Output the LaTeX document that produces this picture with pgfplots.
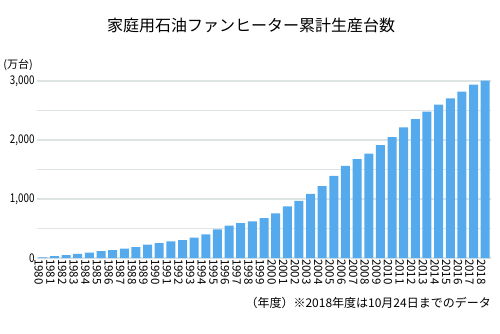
\documentclass[border=0pt]{standalone}
\usepackage{fontspec}
\setmainfont{Noto Sans CJK JP}
\newfontfamily\cond[FakeStretch=0.82]{Noto Sans CJK JP}
\usepackage{pgfplots}
\pgfplotsset{compat=1.18}
\definecolor{barc}{RGB}{85,170,238}
\definecolor{gridc}{RGB}{222,228,228}
\begin{document}
\begin{tikzpicture}
\path[use as bounding box] (0pt,0pt) rectangle (500pt,333pt);
\begin{axis}[at={(37pt,75pt)}, anchor=south west, scale only axis,
  width=454pt, height=177pt,
  xmin=-0.5, xmax=38.5, ymin=0, ymax=3000, clip=false,
  axis line style={draw=none}, tick style={draw=none},
  ytick={0,1000,2000,3000}, yticklabels={0,{1,000},{2,000},{3,000}},
  extra y ticks={500,1500,2500}, extra y tick labels={},
  extra y tick style={grid=major},
  ymajorgrids, major grid style={gridc, line width=1.2pt},
  yticklabel style={font=\cond\fontsize{12}{12}\selectfont, xshift=1pt},
  xtick={0,...,38},
  xticklabels={1980,1981,1982,1983,1984,1985,1986,1987,1988,1989,1990,1991,1992,1993,1994,1995,1996,1997,1998,1999,2000,2001,2002,2003,2004,2005,2006,2007,2008,2009,2010,2011,2012,2013,2014,2015,2016,2017,2018},
  x tick label style={font=\fontsize{11.5}{11.5}\selectfont, rotate=-90, anchor=west, inner sep=1pt, yshift=-4pt},
]
\addplot[ybar, bar width=9pt, fill=barc, draw=none] coordinates {
(0,12) (1,32) (2,50) (3,68) (4,90) (5,118) (6,135) (7,158) (8,186) (9,226)
(10,254) (11,282) (12,305) (13,344) (14,400) (15,485) (16,547) (17,592) (18,622) (19,677)
(20,756) (21,874) (22,970) (23,1088) (24,1218) (25,1393) (26,1562) (27,1675) (28,1771) (29,1912)
(30,2047) (31,2216) (32,2352) (33,2481) (34,2600) (35,2707) (36,2820) (37,2938) (38,3006)
};
\end{axis}
\node[font=\fontsize{16}{16}\selectfont] at (251pt,308pt) {家庭用石油ファンヒーター累計生産台数};
\node[font=\fontsize{11}{11}\selectfont] at (18pt,268pt) {(万台)};
\node[anchor=east, font=\fontsize{12}{12}\selectfont, inner sep=0pt] at (491pt,30pt) {（年度）※2018年度は10月24日までのデータ};
\end{tikzpicture}
\end{document}
